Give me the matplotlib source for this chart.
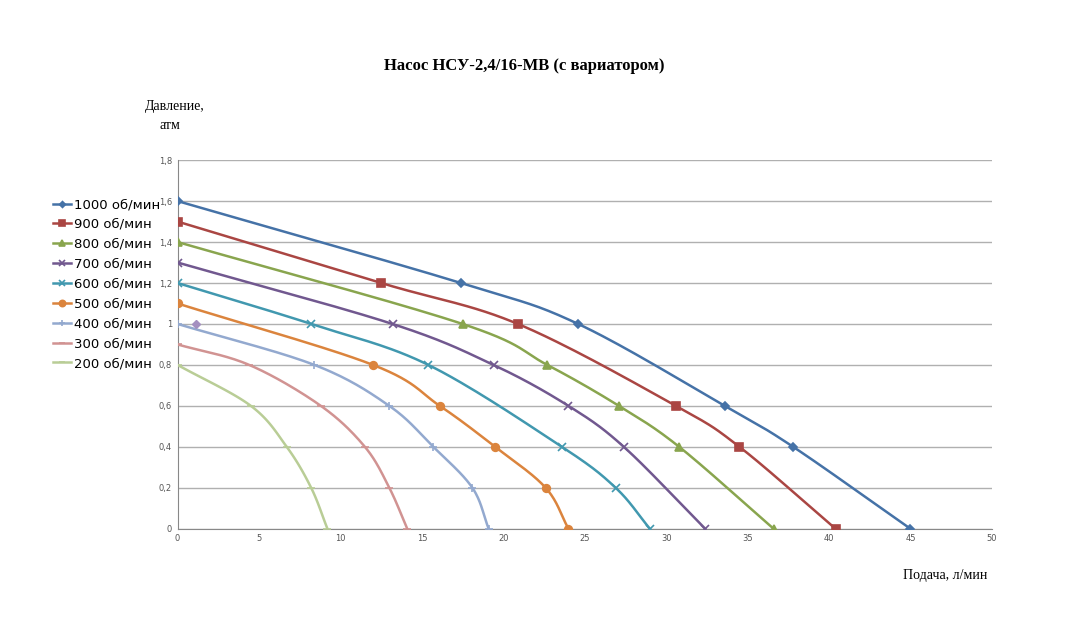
import numpy as np
import matplotlib
matplotlib.use("Agg")
import matplotlib.pyplot as plt

labels = ["1000 об/мин","900 об/мин","800 об/мин","700 об/мин","600 об/мин",
          "500 об/мин","400 об/мин","300 об/мин","200 об/мин"]
xs = [
 [0,17.4,24.6,33.6,37.8,45.0],
 [0,12.5,20.9,30.6,34.5,40.4],
 [0,17.5,22.7,27.1,30.8,36.6],
 [0,13.2,19.4,24.0,27.4,32.4],
 [0,8.2,15.4,23.6,26.9,29.0],
 [0,12.0,16.1,19.5,22.6,24.0],
 [0,8.4,13.0,15.7,18.1,19.1],
 [0,4.4,8.8,11.5,13.0,14.1],
 [0,4.5,6.7,8.2,9.2],
]
ys = [
 [1.6,1.2,1.0,0.6,0.4,0.0],
 [1.5,1.2,1.0,0.6,0.4,0.0],
 [1.4,1.0,0.8,0.6,0.4,0.0],
 [1.3,1.0,0.8,0.6,0.4,0.0],
 [1.2,1.0,0.8,0.4,0.2,0.0],
 [1.1,0.8,0.6,0.4,0.2,0.0],
 [1.0,0.8,0.6,0.4,0.2,0.0],
 [0.9,0.8,0.6,0.4,0.2,0.0],
 [0.8,0.6,0.4,0.2,0.0],
]
stray_x = [1.1]
stray_y = [1.0]
colors = ["#4572a7","#aa4643","#89a54e","#71588f","#4198af","#db843d","#93a9cf","#d19392","#b9cd96"]
markers = ["D","s","^","x","x","o","+","_","_"]
msizes = [4,5.5,5.5,5.5,5.5,5.5,5.5,5.5,5.5]

def smooth(x, y, n=30):
    x = np.asarray(x, float); y = np.asarray(y, float)
    P = np.column_stack([x, y])
    P = np.vstack([2*P[0]-P[1], P, 2*P[-1]-P[-2]])
    out = []
    for i in range(1, len(P)-2):
        p0,p1,p2,p3 = P[i-1],P[i],P[i+1],P[i+2]
        t = np.linspace(0,1,n)[:,None]
        out.append(0.5*((2*p1)+(-p0+p2)*t+(2*p0-5*p1+4*p2-p3)*t**2+(-p0+3*p1-3*p2+p3)*t**3))
    out = np.vstack(out)
    return out[:,0], out[:,1]

fig = plt.figure(figsize=(10.7,6.28), dpi=100)
ax = fig.add_axes([0.166,0.158,0.761,0.587])
handles = []
for x,y,c,m,ms,l in zip(xs,ys,colors,markers,msizes,labels):
    sx, sy = smooth(x,y)
    ax.plot(sx, sy, color=c, lw=1.8, zorder=3)
    ax.plot(x, y, ls='none', marker=m, color=c, ms=ms, mew=1.2, zorder=4)
    h, = ax.plot([],[], color=c, marker=m, ms=ms-1, lw=1.8, mew=1.2)
    handles.append(h)
ax.plot(stray_x, stray_y, ls='none', marker='D', color='#a48fc0', ms=4, zorder=4)

ax.set_xlim(0,50); ax.set_ylim(0,1.8)
ax.set_xticks(range(0,51,5))
ax.set_yticks([0,0.2,0.4,0.6,0.8,1,1.2,1.4,1.6,1.8])
ax.set_yticklabels(["0","0,2","0,4","0,6","0,8","1","1,2","1,4","1,6","1,8"])
ax.tick_params(labelsize=6, colors='#555555', length=0, pad=4)
ax.grid(axis='y', color='#b0b0b0', lw=1)
for s in ['top','right']:
    ax.spines[s].set_visible(False)
for s in ['left','bottom']:
    ax.spines[s].set_color('#888888')
ax.set_axisbelow(True)

fig.legend(handles, labels, loc='upper left', bbox_to_anchor=(0.043,0.695),
           frameon=False, fontsize=9.5, handlelength=1.4, labelspacing=0.52,
           handletextpad=0.25, borderpad=0)
fig.text(0.49,0.895,"Насос НСУ-2,4/16-МВ (с вариатором)", ha='center', va='center',
         fontsize=12, fontweight='bold', family='Liberation Serif')
fig.text(0.163,0.83,"Давление,", ha='center', va='center', fontsize=10, family='Liberation Serif')
fig.text(0.159,0.80,"атм", ha='center', va='center', fontsize=10, family='Liberation Serif')
fig.text(0.883,0.083,"Подача, л/мин", ha='center', va='center', fontsize=10, family='Liberation Serif')
fig.savefig("out.png", dpi=100, facecolor='white')
